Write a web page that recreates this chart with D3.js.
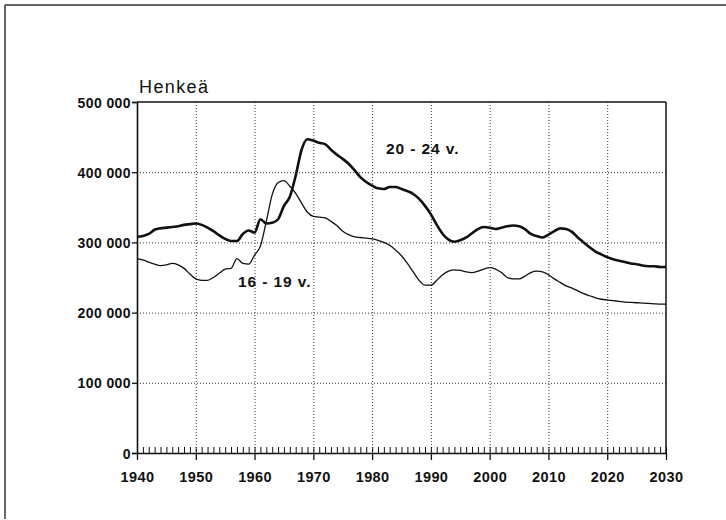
<!DOCTYPE html>
<html><head><meta charset="utf-8">
<script src="https://cdn.jsdelivr.net/npm/d3@7"></script>
<style>
html,body{margin:0;padding:0;background:#fff;}
svg{display:block;}
text{font-family:"Liberation Sans",Arial,Helvetica,sans-serif;fill:#111;}
</style></head>
<body>
<svg id="chart" width="726" height="520"></svg>
<script>
const years = d3.range(1940, 2031);
const age2024 = [308,309,312,318,320,321,322,323,325,326,
  327,325,321,316,310,305,302,302,312,317,
  314,333,327,328,333,352,365,395,432,447,
  445,442,440,432,425,419,412,403,393,386,
  381,377,376,379,379,376,373,369,362,352,
  340,325,312,304,301,303,307,313,319,322,
  321,319,321,323,324,323,319,312,309,307,
  311,316,320,319,315,307,300,293,287,283,
  279,276,274,272,270,269,267,266,266,265,265];
const age1619 = [277,275,272,269,267,268,270,268,263,255,
  248,246,246,250,256,262,263,277,270,269,
  282,295,330,368,385,388,380,370,356,343,
  337,336,335,330,324,316,311,308,307,306,
  305,303,300,296,289,281,270,258,246,239,
  239,246,254,259,261,260,258,257,259,262,
  264,262,257,250,248,248,252,257,259,258,
  254,248,243,238,235,231,227,224,221,219,
  218,217,216,215,214.5,214,213.5,213,212.5,212,212];
const yTicks = [0,100000,200000,300000,400000,500000];
const xTicks = [1940,1950,1960,1970,1980,1990,2000,2010,2020,2030];
const yTickLabels = ["0","100 000","200 000","300 000","400 000","500 000"];
const seriesLabels = ["20 - 24 v.","16 - 19 v."];
const yTitle = "Henkeä";

const svg = d3.select("#chart");
const x = d3.scaleLinear().domain([1940,2030]).range([137,666]);
const y = d3.scaleLinear().domain([0,500000]).range([453,102]);

// outer frame (scan border)
svg.append("line").attr("x1",5).attr("y1",5).attr("x2",726).attr("y2",5).attr("stroke","#333").attr("stroke-width",1.5);
svg.append("line").attr("x1",5).attr("y1",5).attr("x2",5).attr("y2",519).attr("stroke","#333").attr("stroke-width",1.5);

// gridlines
const grid = svg.append("g").attr("stroke","#333").attr("stroke-width",1).attr("stroke-dasharray","1,2");
grid.selectAll(".hg").data(yTicks.filter(d=>d>0&&d<500000)).enter().append("line")
  .attr("x1",x(1940)).attr("x2",x(2030)).attr("y1",d=>y(d)+0.5).attr("y2",d=>y(d)+0.5);
grid.selectAll(".vg").data(xTicks.filter(d=>d>1940&&d<2030)).enter().append("line")
  .attr("y1",y(500000)).attr("y2",y(0)).attr("x1",d=>x(d)+0.5).attr("x2",d=>x(d)+0.5);

// frame: top and right
svg.append("line").attr("x1",x(1940)).attr("x2",x(2030)).attr("y1",y(500000)).attr("y2",y(500000)).attr("stroke","#111").attr("stroke-width",1.5);
svg.append("line").attr("x1",x(2030)).attr("x2",x(2030)).attr("y1",y(500000)).attr("y2",y(0)).attr("stroke","#111").attr("stroke-width",1.5);

// y axis
const yAxis = d3.axisLeft(y).tickValues(yTicks).tickSize(5).tickFormat((d,i)=>yTickLabels[i]);
const gy = svg.append("g").attr("transform",`translate(${x(1940)},0)`).call(yAxis);
gy.select(".domain").attr("stroke","#111").attr("stroke-width",1.6);
gy.selectAll(".tick line").attr("stroke","#111").attr("stroke-width",1.3);
gy.selectAll(".tick text").attr("x",-6).attr("dy","0.36em")
  .style("font-size","14px").style("font-weight","bold").style("letter-spacing","0.4px").attr("fill","#111");

// x axis: minor yearly ticks upward
const gxm = svg.append("g").attr("transform",`translate(0,${y(0)})`)
  .call(d3.axisTop(x).tickValues(years).tickSize(6).tickFormat(""));
gxm.select(".domain").remove();
gxm.selectAll(".tick line").attr("stroke","#111").attr("stroke-width",1);

// x axis: decade ticks downward with labels
const gx = svg.append("g").attr("transform",`translate(0,${y(0)})`)
  .call(d3.axisBottom(x).tickValues(xTicks).tickSize(7).tickSizeOuter(0).tickPadding(12).tickFormat(d3.format("d")));
gx.select(".domain").attr("stroke","#111").attr("stroke-width",1.6);
gx.selectAll(".tick line").attr("stroke","#111").attr("stroke-width",1.3);
gx.selectAll(".tick text").style("font-size","14.5px").style("font-weight","bold").style("letter-spacing","0.4px").attr("fill","#111");

// lines
const line = d3.line().x(d=>x(d[0])).y(d=>y(d[1]*1000)).curve(d3.curveMonotoneX);
svg.append("path").datum(years.map((yr,i)=>[yr,age1619[i]]))
  .attr("d",line).attr("fill","none").attr("stroke","#111").attr("stroke-width",1.3);
svg.append("path").datum(years.map((yr,i)=>[yr,age2024[i]]))
  .attr("d",line).attr("fill","none").attr("stroke","#111").attr("stroke-width",2.6);

// labels
svg.append("text").attr("x",139).attr("y",93).text(yTitle)
  .style("font-size","18px").style("letter-spacing","1.4px");
svg.append("text").attr("x",386).attr("y",154).text(seriesLabels[0])
  .style("font-size","15.5px").style("font-weight","bold").style("letter-spacing","0.9px");
svg.append("text").attr("x",238).attr("y",287).text(seriesLabels[1])
  .style("font-size","15.5px").style("font-weight","bold").style("letter-spacing","0.9px");
</script>
</body></html>
